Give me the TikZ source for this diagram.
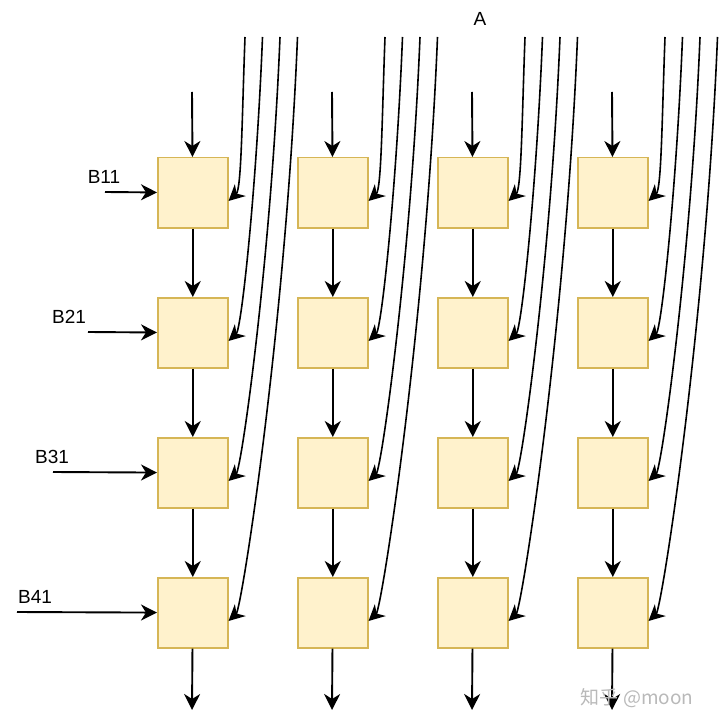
\documentclass[tikz,border=0pt]{standalone}
\usepackage{fontspec}
\setmainfont{Liberation Sans}
\newfontfamily\cjk{Noto Sans CJK SC}
\usetikzlibrary{arrows.meta,calc}
\definecolor{cellfill}{HTML}{FFF2CC}
\definecolor{celldraw}{HTML}{D6B656}
\begin{document}
\begin{tikzpicture}[x=1pt,y=-1pt,
  cell/.style={draw=celldraw,fill=cellfill,line width=1.5pt,minimum width=70pt,minimum height=70pt,inner sep=0pt,anchor=north west},
  arr/.style={line width=1.9pt,-{Stealth[length=16pt,width=16pt,inset=5pt]}},
  carr/.style={line width=1.6pt,-{Stealth[length=16pt,width=16pt,inset=5pt]}},
  lbl/.style={font=\fontsize{19}{19}\selectfont,inner sep=0pt}]
\useasboundingbox (0,0) rectangle (720,727);
\foreach \c in {0,...,3}{
  \foreach \r in {0,...,3}{
    \node[cell] (b\r\c) at ({157+140*\c},{157+140*\r}) {};
  }
  \coordinate (t\c) at ({192+140*\c},92);
  \coordinate (e\c) at ({192+140*\c},710);
  \draw[arr] (t\c) -- (b0\c);
  \draw[arr] (b0\c) -- (b1\c);
  \draw[arr] (b1\c) -- (b2\c);
  \draw[arr] (b2\c) -- (b3\c);
  \draw[arr] (b3\c) -- (e\c);
  \foreach \k in {0,...,3}{
    \pgfmathsetmacro{\dx}{18+17.5*\k}
    \pgfmathsetmacro{\dy}{164+140*\k}
    \coordinate (s\k\c) at ({245+140*\c+17.5*\k},37);
    \coordinate (d\k\c) at ($(b\k\c.north east)+(0,44)$);
    \draw[carr] (s\k\c) .. controls +({-0.17*\dx},{0.5*\dy}) and +(13,-12) .. (d\k\c);
  }
}
\coordinate (l0) at (105,192);
\coordinate (l1) at (88,332);
\coordinate (l2) at (53,472);
\coordinate (l3) at (17,612);
\draw[arr] (l0) -- (b00);
\draw[arr] (l1) -- (b10);
\draw[arr] (l2) -- (b20);
\draw[arr] (l3) -- (b30);
\node[lbl] (B11) at (104,177) {B11};
\node[lbl] (B21) at (69,317) {B21};
\node[lbl] (B31) at (52,457) {B31};
\node[lbl] (B41) at (35,597) {B41};
\node[lbl] (A) at (480,19) {A};
\node[text=gray!55,font=\cjk\fontsize{19}{19}\selectfont,inner sep=0pt] (wm) at (637,698) {知乎 @moon};
\end{tikzpicture}
\end{document}
